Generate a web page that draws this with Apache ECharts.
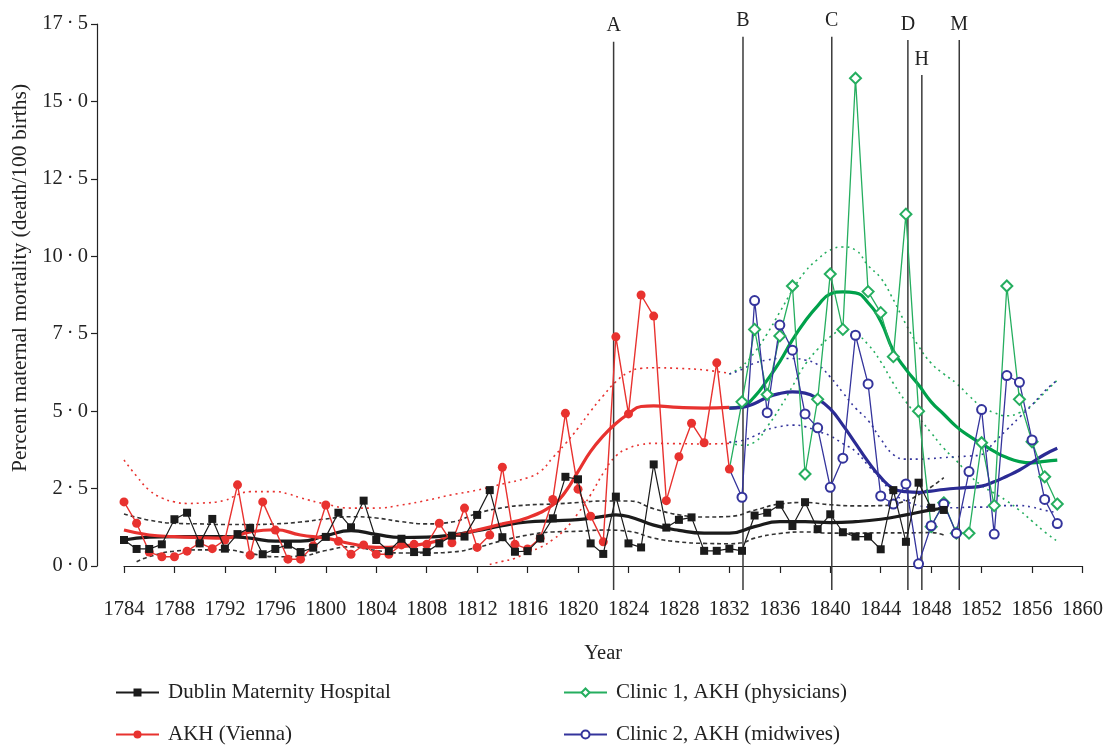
<!DOCTYPE html>
<html>
<head>
<meta charset="utf-8">
<script src="https://cdn.jsdelivr.net/npm/echarts/dist/echarts.min.js"></script>
<style>html,body{margin:0;padding:0;background:#fff}#c{width:1106px;height:746px}</style>
</head>
<body>
<div id="c"></div>
<script>
// ---------- data ----------
const dublinStart = 1784;
const dublinValues = [0.84,0.55,0.55,0.70,1.51,1.72,0.73,1.52,0.56,1.03,1.23,0.38,0.55,0.69,0.45,0.59,0.94,1.72,1.25,2.11,
  0.84,0.48,0.88,0.45,0.45,0.73,0.98,0.95,1.65,2.45,0.93,0.46,0.48,0.89,1.54,2.88,2.80,0.73,0.39,2.24,
  0.73,0.60,3.28,1.24,1.49,1.57,0.49,0.49,0.56,0.49,1.63,1.72,1.98,1.29,2.06,1.19,1.67,1.09,0.95,0.95,
  0.54,2.45,0.78,2.69,1.88,1.81];
const akhStart = 1784;
const akhValues = [2.07,1.38,0.45,0.30,0.30,0.48,0.75,0.56,0.84,2.62,0.35,2.07,1.16,0.22,0.22,0.65,1.97,0.80,0.38,0.68,
  0.38,0.38,0.68,0.70,0.70,1.38,0.75,1.87,0.60,1.00,3.19,0.70,0.55,0.90,2.15,4.93,2.48,1.61,0.78,7.40,
  4.91,8.75,8.07,2.11,3.53,4.61,3.98,6.56,3.13];
const clinicStart = 1833;
const clinic1Values = [5.30,7.64,5.54,7.43,9.04,2.97,5.38,9.43,7.64,15.75,8.86,8.18,6.76,11.36,5.00,1.27,2.04,1.06,1.06,3.98,
  1.95,9.04,5.38,4.01,2.88,2.00];
const clinic2Values = [2.22,8.57,4.95,7.78,6.97,4.91,4.46,2.54,3.48,7.45,5.88,2.26,2.00,2.65,0.07,1.30,2.00,1.06,3.05,5.05,
  1.03,6.15,5.93,4.07,2.15,1.37];

// smoothed trends
const dublinTrendYears = [1784,1786,1788,1790,1792,1794,1796,1798,1800,1802,1804,1806,1808,1810,1812,1814,1816,1818,1820,1822,1823,1824,1826,1828,1830,1832,1834,1836,1838,1840,1842,1844,1846,1848,1849];
const dublinTrend = [0.84,0.93,0.95,0.95,0.95,0.90,0.80,0.80,0.98,1.14,1.02,0.92,0.93,1.00,1.14,1.30,1.42,1.46,1.50,1.60,1.65,1.60,1.32,1.15,1.06,1.06,1.27,1.43,1.43,1.40,1.43,1.51,1.65,1.81,1.86];
const dublinUpperYears = [1784,1786,1788,1790,1792,1794,1796,1798,1800,1802,1804,1806,1808,1810,1812,1814,1816,1818,1820,1822,1824,1826,1828,1830,1832,1834,1836,1838,1840,1842,1844,1846,1847,1848,1849];
const dublinUpper = [1.68,1.48,1.38,1.36,1.34,1.34,1.36,1.42,1.52,1.59,1.55,1.43,1.36,1.42,1.70,1.88,1.97,2.00,2.05,2.10,2.10,1.85,1.65,1.58,1.60,1.80,2.00,2.05,1.98,1.94,1.95,2.10,2.30,2.55,2.85];
const dublinLowerYears = [1785,1786,1788,1790,1792,1794,1796,1798,1800,1802,1804,1806,1808,1810,1812,1814,1816,1818,1820,1822,1824,1826,1828,1830,1832,1833,1834,1836,1838,1840,1842,1844,1846,1848,1849];
const dublinLower = [0.14,0.30,0.48,0.52,0.52,0.40,0.30,0.32,0.50,0.62,0.50,0.42,0.42,0.45,0.60,0.82,1.00,1.10,1.12,1.16,1.12,0.90,0.78,0.73,0.72,0.75,0.90,1.05,1.10,1.06,1.06,1.07,1.07,1.08,1.00];

const akhTrendYears = [1784,1786,1788,1790,1792,1794,1796,1798,1800,1802,1804,1806,1808,1810,1812,1814,1816,1818,1819,1820,1821,1822,1823,1824,1825,1826,1828,1830,1832];
const akhTrend = [1.16,1.00,0.95,0.92,0.90,1.10,1.17,1.00,0.90,0.72,0.60,0.63,0.73,0.95,1.16,1.36,1.56,1.97,2.40,3.05,3.70,4.20,4.60,4.91,5.15,5.17,5.12,5.10,5.12];
const akhUpperYears = [1784,1785,1786,1787,1788,1789,1790,1792,1793,1794,1796,1797,1798,1800,1802,1804,1806,1808,1810,1812,1814,1816,1817,1818,1819,1820,1821,1822,1823,1824,1825,1826,1828,1830,1832];
const akhUpper = [3.42,2.90,2.45,2.20,2.07,2.02,2.03,2.12,2.30,2.40,2.40,2.33,2.20,2.00,1.87,1.87,1.97,2.12,2.30,2.45,2.65,2.85,3.05,3.50,3.95,4.45,5.00,5.50,5.95,6.25,6.38,6.40,6.38,6.33,6.22];
const akhLowerYears = [1813,1814,1815,1816,1817,1818,1819,1820,1821,1822,1823,1824,1825,1826,1828,1830,1832];
const akhLower = [0.05,0.15,0.25,0.45,0.60,0.85,1.20,1.70,2.30,3.00,3.55,3.80,3.92,3.96,3.95,3.94,3.96];

const clinicTrendYears = [1832,1833,1834,1835,1836,1837,1838,1839,1840,1841,1842,1843,1844,1845,1846,1847,1848,1849,1850,1851,1852,1853,1854,1855,1856,1857,1858];
const clinic1Trend = [5.10,5.15,5.47,6.00,6.60,7.30,7.90,8.40,8.78,8.85,8.82,8.50,7.90,6.95,6.35,5.85,5.30,4.90,4.50,4.20,3.95,3.70,3.50,3.37,3.33,3.38,3.42];
const clinic1Upper = [6.20,6.45,6.90,7.50,8.20,8.90,9.50,9.90,10.20,10.30,10.20,9.70,9.30,8.60,7.80,7.10,6.55,6.20,5.90,5.50,5.15,4.95,4.85,4.95,5.20,5.60,6.00];
const clinic1Lower = [4.00,3.90,4.00,4.50,5.10,5.80,6.50,7.00,7.40,7.60,7.50,7.15,6.60,5.90,5.30,4.80,4.30,3.80,3.40,2.95,2.60,2.35,2.10,1.80,1.45,1.10,0.80];
const clinic2Trend = [5.10,5.12,5.25,5.45,5.57,5.62,5.58,5.40,5.07,4.55,3.96,3.37,2.86,2.50,2.40,2.38,2.42,2.47,2.51,2.54,2.58,2.72,2.90,3.10,3.35,3.60,3.80];
const clinic2Upper = [6.20,6.35,6.55,6.65,6.70,6.70,6.65,6.50,6.10,5.60,5.10,4.70,4.10,3.60,3.45,3.45,3.47,3.50,3.53,3.55,3.60,4.00,4.40,4.80,5.20,5.65,6.00];
const clinic2Lower = [4.00,4.05,4.20,4.40,4.50,4.55,4.50,4.35,4.20,3.95,3.70,3.25,2.80,2.35,2.10,1.95,1.90,1.88,1.88,1.90,1.90,1.92,1.95,1.95,1.90,1.80,1.72];

// events (vertical reference lines)
const eventNames = ['A','B','C','D','H','M'];
const eventYears = [1822.6,1832.8,1839.8,1845.8,1846.9,1849.85];
const eventTops  = [16.93,17.09,17.09,16.98,15.85,16.98];

const yTicks = {min: 0, max: 17.5, interval: 2.5};
const xTicks = {min: 1784, max: 1860, interval: 4};

// ---------- chart ----------
const FONT = '"Liberation Serif", "Times New Roman", serif';
const C_BLACK = '#1b1b1b', C_RED = '#e8322f', C_GREEN = '#25ae5f', C_GREEN_T = '#00a14b', C_BLUE = '#34349c', C_BLUE_T = '#2b2b94';

const seq = (start, vals) => vals.map((v, i) => [start + i, v]);
const pairs = (ys, vals) => ys.map((y, i) => [y, vals[i]]);

const gridTop = 24, gridBottom = 180, axisOffset = 24;
const plotH = 746 - gridTop - gridBottom;
const eventYMin = -axisOffset * (yTicks.max - yTicks.min) / plotH;

function band(data, color, dash) {
  return {type: 'line', data, smooth: 0.5, symbol: 'none', silent: true, z: 1,
    lineStyle: {color, width: 1.6, type: dash || [2, 4]}};
}
function trend(data, color) {
  return {type: 'line', data, smooth: 0.5, symbol: 'none', silent: true, z: 3,
    lineStyle: {color, width: 3.2}};
}

const series = [
  band(pairs(dublinUpperYears, dublinUpper), '#333', [4, 3]),
  band(pairs(dublinLowerYears, dublinLower), '#333', [4, 3]),
  band(pairs(akhUpperYears, akhUpper), C_RED),
  band(pairs(akhLowerYears, akhLower), C_RED),
  band(pairs(clinicTrendYears, clinic1Upper), C_GREEN),
  band(pairs(clinicTrendYears, clinic1Lower), C_GREEN),
  band(pairs(clinicTrendYears, clinic2Upper), C_BLUE),
  band(pairs(clinicTrendYears, clinic2Lower), C_BLUE),
  {name: 'Clinic 1, AKH (physicians)', type: 'line', z: 4,
    data: [{value: [akhStart + akhValues.length - 1, akhValues[akhValues.length - 1]], symbol: 'none'}].concat(seq(clinicStart, clinic1Values)),
    symbol: 'emptyDiamond', symbolSize: 11, color: C_GREEN,
    itemStyle: {color: C_GREEN, borderWidth: 1.2}, lineStyle: {color: C_GREEN, width: 1.3}},
  {name: 'Clinic 2, AKH (midwives)', type: 'line', z: 4,
    data: [{value: [akhStart + akhValues.length - 1, akhValues[akhValues.length - 1]], symbol: 'none'}].concat(seq(clinicStart, clinic2Values)),
    symbol: 'emptyCircle', symbolSize: 9, color: C_BLUE,
    itemStyle: {color: C_BLUE, borderWidth: 1.2}, lineStyle: {color: C_BLUE, width: 1.3}},
  {name: 'AKH (Vienna)', type: 'line', z: 5, data: seq(akhStart, akhValues),
    symbol: 'circle', symbolSize: 9, color: C_RED,
    itemStyle: {color: C_RED}, lineStyle: {color: C_RED, width: 1.4}},
  {name: 'Dublin Maternity Hospital', type: 'line', z: 6, data: seq(dublinStart, dublinValues),
    symbol: 'rect', symbolSize: 8, color: C_BLACK,
    itemStyle: {color: C_BLACK}, lineStyle: {color: C_BLACK, width: 1.2}},
  trend(pairs(dublinTrendYears, dublinTrend), C_BLACK),
  trend(pairs(akhTrendYears, akhTrend), C_RED),
  trend(pairs(clinicTrendYears, clinic1Trend), C_GREEN_T),
  trend(pairs(clinicTrendYears, clinic2Trend), C_BLUE_T)
];

eventNames.forEach((nm, i) => {
  series.push({type: 'line', xAxisIndex: 1, yAxisIndex: 1, silent: true, z: 2,
    symbol: 'circle', symbolSize: 1, itemStyle: {color: 'rgba(0,0,0,0)'},
    lineStyle: {color: '#3a3a3a', width: 1.5},
    data: [[eventYears[i], eventYMin],
      {value: [eventYears[i], eventTops[i]],
       label: {show: true, position: 'top', distance: 5, formatter: nm,
               fontFamily: FONT, fontSize: 20, color: '#222'}}]});
});

const axisText = {fontFamily: FONT, fontSize: 20.5, color: '#222'};
const legendBase = {orient: 'vertical', top: 682, padding: 0, itemGap: 21, itemWidth: 43, itemHeight: 10,
  textStyle: {fontFamily: FONT, fontSize: 21, color: '#222', padding: [0, 0, 0, 4]}, selectedMode: false};

const option = {
  animation: false,
  backgroundColor: '#fff',
  grid: [
    {left: 124, right: 18, top: gridTop, bottom: gridBottom},
    {left: 124, right: 18, top: gridTop, bottom: gridBottom - axisOffset}
  ],
  xAxis: [
    {type: 'value', min: xTicks.min, max: xTicks.max, interval: xTicks.interval, offset: axisOffset,
     axisLine: {lineStyle: {color: '#222', width: 1.2}},
     axisTick: {length: 7, lineStyle: {color: '#222', width: 1.2}},
     axisLabel: Object.assign({margin: 9, formatter: v => String(v)}, axisText),
     splitLine: {show: false},
     name: 'Year', nameLocation: 'middle', nameGap: 53, nameTextStyle: axisText},
    {type: 'value', gridIndex: 1, min: xTicks.min, max: xTicks.max, show: false}
  ],
  yAxis: [
    {type: 'value', min: yTicks.min, max: yTicks.max, interval: yTicks.interval, offset: 27,
     axisLine: {show: true, lineStyle: {color: '#222', width: 1.2}},
     axisTick: {show: true, length: 6, lineStyle: {color: '#222', width: 1.2}},
     axisLabel: Object.assign({margin: 9, formatter: v => v.toFixed(1).replace('.', '\u2009\u00b7\u2009')}, axisText),
     splitLine: {show: false},
     name: 'Percent maternal mortality (death/100 births)', nameLocation: 'middle', nameGap: 64,
     nameTextStyle: Object.assign({}, axisText, {fontSize: 21.5, padding: [0, 0, 0, 34]})},
    {type: 'value', gridIndex: 1, min: eventYMin, max: yTicks.max, show: false}
  ],
  legend: [
    Object.assign({left: 115, data: ['Dublin Maternity Hospital', 'AKH (Vienna)']}, legendBase),
    Object.assign({left: 563, data: ['Clinic 1, AKH (physicians)', 'Clinic 2, AKH (midwives)']}, legendBase)
  ],
  series
};

const chart = echarts.init(document.getElementById('c'), null, {renderer: 'canvas'});
chart.setOption(option);
</script>
</body>
</html>
